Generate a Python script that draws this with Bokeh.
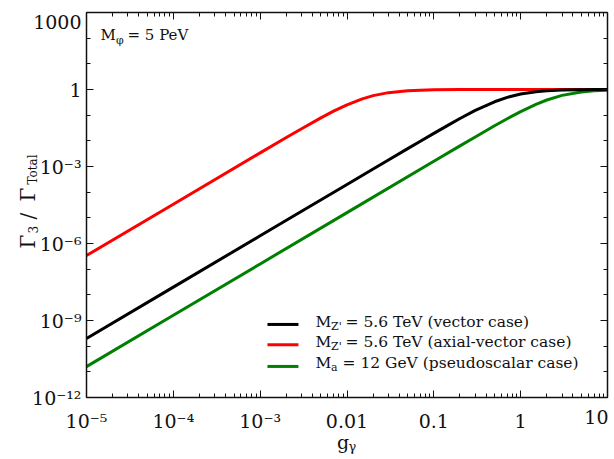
import math
from bokeh.plotting import figure
from bokeh.models import FixedTicker, LogAxis, Label, Range1d, CustomJSTickFormatter
from bokeh.embed import file_html
from bokeh.resources import INLINE

# ---- data ----
g_vector = [1e-5, 1e-4, 1e-3, 3e-3, 0.01, 0.02, 0.03, 0.05, 0.07, 0.1, 0.15, 0.2, 0.3, 0.5, 0.7, 1, 1.5, 2, 3, 5, 7, 10]
r_vector = [2e-10, 2e-8, 2e-6, 1.8e-5, 2e-4, 8e-4, 1.8e-3, 4.98e-3, 9.7e-3, 0.0196, 0.043, 0.074, 0.153, 0.333, 0.495, 0.667, 0.818, 0.889, 0.947, 0.980, 0.990, 0.995]

g_axial = [1e-5, 1e-4, 1e-3, 2e-3, 3e-3, 5e-3, 7e-3, 0.01, 0.015, 0.02, 0.03, 0.05, 0.07, 0.1, 0.2, 0.5, 1, 10]
r_axial = [3.4e-7, 3.4e-5, 3.39e-3, 0.0134, 0.0297, 0.0783, 0.143, 0.254, 0.433, 0.576, 0.754, 0.895, 0.943, 0.971, 0.9927, 0.9988, 0.9997, 1.0]

g_pseudo = [1e-5, 1e-4, 1e-3, 0.01, 0.1, 0.2, 0.3, 0.5, 0.7, 1, 1.5, 2, 3, 5, 7, 10]
r_pseudo = [1.6e-11, 1.6e-9, 1.6e-7, 1.6e-5, 1.597e-3, 6.36e-3, 0.0142, 0.0385, 0.0727, 0.138, 0.265, 0.390, 0.590, 0.800, 0.887, 0.941]

x_major = [1e-5, 1e-4, 1e-3, 1e-2, 1e-1, 1.0, 10.0]
x_minor = [m * d for d in [1e-5, 1e-4, 1e-3, 1e-2, 1e-1, 1.0] for m in range(2, 10)]
x_labels = ["10⁻⁵", "10⁻⁴", "10⁻³", "0.01", "0.1", "1", "10"]

y_major = [1e-12, 1e-9, 1e-6, 1e-3, 1.0, 1e3]
y_minor = [10.0 ** k for k in range(-12, 4)]
y_labels = ["10⁻¹²", "10⁻⁹", "10⁻⁶", "10⁻³", "1", "1000"]

legend_subs = ["Z'", "Z'", "a"]
legend_rest = ["= 5.6 TeV (vector case)", "= 5.6 TeV (axial-vector case)", "= 12 GeV (pseudoscalar case)"]
colors = ["#000000", "#ff0000", "#008000"]

FONT = "DejaVu Serif"
INK = "#111111"

# ---- layout geometry (pixels): plot box inside a 614x459 canvas ----
W, H = 614, 459
BOX_L, BOX_R, BOX_T, BOX_B = 86, 607, 12, 397
X0, X1, Y0, Y1 = 1e-5, 10.0, 1e-12, 1e3
ppd_x = (BOX_R - BOX_L) / (math.log10(X1) - math.log10(X0))
ppd_y = (BOX_B - BOX_T) / (math.log10(Y1) - math.log10(Y0))
x_range = Range1d(10 ** (math.log10(X0) - BOX_L / ppd_x), 10 ** (math.log10(X1) + (W - BOX_R) / ppd_x))
y_range = Range1d(10 ** (math.log10(Y0) - (H - BOX_B) / ppd_y), 10 ** (math.log10(Y1) + BOX_T / ppd_y))

p = figure(width=W, height=H, x_axis_type="log", y_axis_type="log",
           x_range=x_range, y_range=y_range,
           output_backend="svg", toolbar_location=None,
           min_border=0, min_border_left=0, min_border_right=0,
           min_border_top=0, min_border_bottom=0)
p.grid.visible = False
p.outline_line_color = None
p.background_fill_color = "white"
p.border_fill_color = "white"

def style_axis(ax, ticks, minor, loc, bounds):
    ax.ticker = FixedTicker(ticks=ticks, minor_ticks=minor)
    ax.fixed_location = loc
    ax.bounds = bounds
    ax.major_tick_in = 7
    ax.major_tick_out = 0
    ax.minor_tick_in = 4
    ax.minor_tick_out = 0
    ax.axis_line_color = INK
    ax.axis_line_width = 1.5
    ax.major_tick_line_color = INK
    ax.minor_tick_line_color = INK
    ax.major_label_text_font = FONT
    ax.major_label_text_font_size = "19px"
    ax.major_label_text_color = INK

blank = CustomJSTickFormatter(code="return ''")

xb = p.xaxis[0]
style_axis(xb, x_major, x_minor, Y0, (X0, X1))
xb.major_label_standoff = 12
xo = {t: s for t, s in zip(x_major, x_labels)}
xo[10.0] = " "
xb.major_label_overrides = xo

yl = p.yaxis[0]
style_axis(yl, y_major, y_minor, X0, (Y0, Y1))
yl.major_label_standoff = 5
yo = {t: s for t, s in zip(y_major, y_labels)}
yo[1e3] = " "
yl.major_label_overrides = yo

top = LogAxis(formatter=blank)
style_axis(top, x_major, x_minor, Y1, (X0, X1))
right = LogAxis(formatter=blank)
style_axis(right, y_major, y_minor, X1, (Y0, Y1))
p.add_layout(top, "above")
p.add_layout(right, "right")

# edge tick labels, shifted inward like the reference
p.add_layout(Label(x=X0, y=Y1, x_offset=-5, y_offset=-9, text=y_labels[-1],
                   text_align="right", text_baseline="middle",
                   text_font=FONT, text_font_size="19px", text_color=INK))
p.add_layout(Label(x=X1, y=Y0, x_offset=1, y_offset=-12, text=x_labels[-1],
                   text_align="right", text_baseline="top",
                   text_font=FONT, text_font_size="19px", text_color=INK))

# curves
p.line(g_axial, r_axial, line_color=colors[1], line_width=3)
p.line(g_pseudo, r_pseudo, line_color=colors[2], line_width=3)
p.line(g_vector, r_vector, line_color=colors[0], line_width=3)

# legend (custom, for subscripts)
leg_x = [10 ** -2.916, 10 ** -2.559]
leg_y = [10 ** -9.154, 10 ** -9.945, 10 ** -10.79]
leg_base = [66.5, 46.5, 25.5]   # baseline offsets above the box bottom (px)
leg_eq = [259, 259, 256]
for i in range(3):
    p.line(leg_x, [leg_y[i], leg_y[i]], line_color=colors[i], line_width=3)
    p.add_layout(Label(x=X0, y=Y0, x_offset=229, y_offset=leg_base[i], text="M",
                       text_font=FONT, text_font_size="15.5px", text_color=INK))
    p.add_layout(Label(x=X0, y=Y0, x_offset=244.5, y_offset=leg_base[i] - 2, text=legend_subs[i],
                       text_font=FONT, text_font_size="11px", text_color=INK))
    p.add_layout(Label(x=X0, y=Y0, x_offset=leg_eq[i], y_offset=leg_base[i], text=legend_rest[i],
                       text_font=FONT, text_font_size="15.5px", text_color=INK))

# M_phi annotation
p.add_layout(Label(x=X0, y=Y1, x_offset=14, y_offset=-31.5, text="M",
                   text_font=FONT, text_font_size="15px", text_color=INK))
p.add_layout(Label(x=X0, y=Y1, x_offset=29.5, y_offset=-34, text="φ",
                   text_font=FONT, text_font_size="11px", text_color=INK))
p.add_layout(Label(x=X0, y=Y1, x_offset=41, y_offset=-31.5, text="= 5 PeV",
                   text_font=FONT, text_font_size="15px", text_color=INK))

# x axis title g_gamma (anchored at the box's horizontal centre, 0.01)
p.add_layout(Label(x=0.01, y=Y0, x_offset=-10, y_offset=-55, text="g",
                   text_font=FONT, text_font_size="19px", text_color=INK))
p.add_layout(Label(x=0.01, y=Y0, x_offset=1.5, y_offset=-56, text="γ",
                   text_font=FONT, text_font_size="13px", text_color=INK))

# y axis title Gamma_3 / Gamma_Total (rotated)
ang = math.pi / 2
for txt, xo_, yo_, fs in [("Γ", -59, 149, "20px"), ("3", -54, 164, "12px"),
                          ("/", -59, 178, "20px"), ("Γ", -59, 196, "20px"),
                          ("Total", -54, 213, "12px")]:
    p.add_layout(Label(x=X0, y=Y0, x_offset=xo_, y_offset=yo_, text=txt, angle=ang,
                       text_align="left", text_baseline="alphabetic",
                       text_font=FONT, text_font_size=fs, text_color=INK))

open("out.html", "w").write(file_html(p, INLINE))
